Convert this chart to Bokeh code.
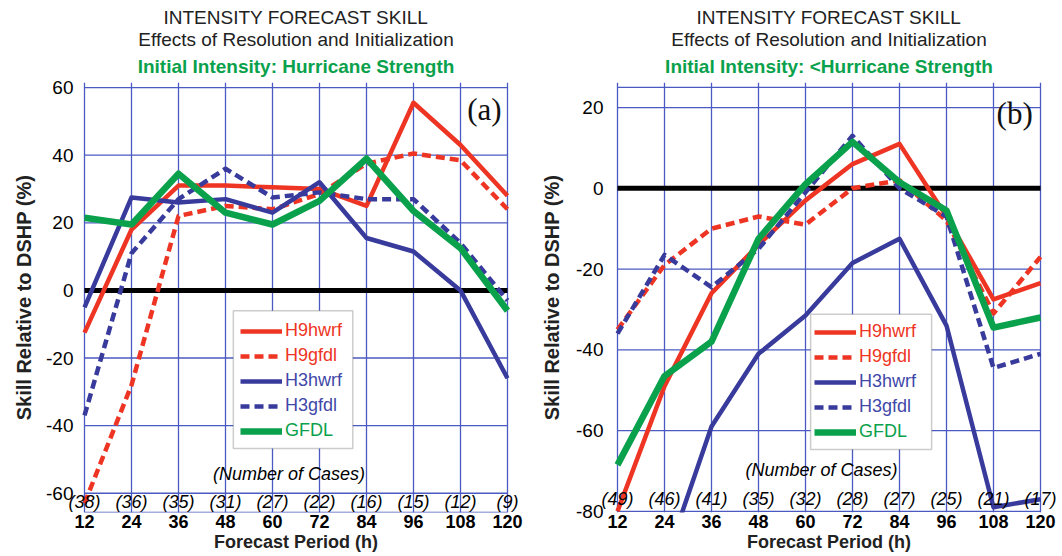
from bokeh.plotting import figure
from bokeh.models import (Range1d, FixedTicker, Label, Legend,
                          LegendItem, BoxAnnotation, Title, ColumnDataSource)
from bokeh.layouts import row
from bokeh.embed import file_html
from bokeh.resources import INLINE

nan = float("nan")

# ---------------- data ----------------
hours = [12, 24, 36, 48, 60, 72, 84, 96, 108, 120]

# Panel (a): initial intensity hurricane strength
a_H9hwrf = [-12.5, 18, 31, 31, 30.5, 30, 25, 55.5, 43, 28]
a_H9gfdl = [-63, -28, 22, 25, 24, 28.5, 37.5, 40.5, 38.5, 24]
a_H3hwrf = [-5, 27.5, 26, 27, 23, 32, 15.5, 11.5, 0, -26]
a_H3gfdl = [-37, 11, 27, 36, 27.5, 29, 27, 27, 14, -3]
a_GFDL = [21.5, 19.5, 34.5, 23, 19.5, 26.5, 39, 23.5, 12.5, -6]
a_cases = [38, 36, 35, 31, 27, 22, 16, 15, 12, 9]

# Panel (b): initial intensity < hurricane strength
b_H9hwrf = [-80, -49, -26, -14, -3, 6, 11, -7, -27.5, -23.5]
b_H9gfdl = [-35, -19, -10, -7, -9, 0, 2, -8, -31, -17]
b_H3hwrf = [nan, -93, -59, -41, -31.5, -18.5, -12.5, -34, -79, -77]
b_H3gfdl = [-36, -16.5, -24.5, -15, -1, 13, 0, -7, -44.5, -41]
b_GFDL = [-68.5, -46.5, -38, -12.5, 1, 11.5, 1.5, -5.5, -34.5, -32]
b_cases = [49, 46, 41, 35, 32, 28, 27, 25, 21, 17]

series_names = ["H9hwrf", "H9gfdl", "H3hwrf", "H3gfdl", "GFDL"]
a_yticks = [-60, -40, -20, 0, 20, 40, 60]
b_yticks = [-80, -60, -40, -20, 0, 20]

title1 = "INTENSITY FORECAST SKILL"
title2 = "Effects of Resolution and Initialization"
a_title3 = "Initial Intensity: Hurricane Strength"
b_title3 = "Initial Intensity: <Hurricane Strength"
xlabel = "Forecast Period (h)"
ylabel = "Skill Relative to DSHP (%)"

# ---------------- style ----------------
RED = "#ee3524"
BLUE = "#383b9c"
GREEN = "#0aa14c"
GRID = "#4a5ac2"
SANS = "Liberation Sans"
XPAD = 4.6  # hours of blank space on each side so edge texts are not clipped
styles = {
    "H9hwrf": dict(line_color=RED, line_width=4.5, line_dash="solid"),
    "H9gfdl": dict(line_color=RED, line_width=4.5, line_dash="9 5"),
    "H3hwrf": dict(line_color=BLUE, line_width=4.5, line_dash="solid"),
    "H3gfdl": dict(line_color=BLUE, line_width=4.5, line_dash="9 5"),
    "GFDL": dict(line_color=GREEN, line_width=6.5, line_dash="solid"),
}
text_colors = {"H9hwrf": RED, "H9gfdl": RED, "H3hwrf": "#3f48a8",
               "H3gfdl": "#3f48a8", "GFDL": GREEN}


def make_panel(width, left, right, frame_y, yrange, yticks, series, cases,
               case_y, noc_pos, tag, tag_pos, title3, legend_x, legend_y0,
               box, tick_standoff, label_standoff):
    p = figure(width=width, height=554,
               x_range=Range1d(hours[0] - XPAD, hours[-1] + XPAD),
               y_range=Range1d(*yrange),
               output_backend="svg", toolbar_location=None, title=None,
               min_border_left=left, min_border_right=right,
               min_border_top=82, min_border_bottom=40)
    p.background_fill_color = "white"
    p.border_fill_color = "white"
    p.outline_line_color = None

    p.xaxis.ticker = FixedTicker(ticks=hours)
    p.yaxis.ticker = FixedTicker(ticks=yticks)
    p.yaxis.major_label_overrides = {t: str(t) for t in yticks}
    p.xgrid.ticker = FixedTicker(ticks=hours)
    p.xgrid.grid_line_color = GRID
    p.xgrid.grid_line_width = 1.3
    p.ygrid.grid_line_color = None

    for ax in (p.xaxis, p.yaxis):
        ax.axis_line_color = None
        ax.major_tick_line_color = None
        ax.minor_tick_line_color = None
        ax.major_tick_out = 0
        ax.major_tick_in = 0
        ax.major_label_text_font = SANS
        ax.major_label_text_color = "black"
        ax.axis_label_text_font = SANS
        ax.axis_label_text_font_style = "bold"
        ax.axis_label_text_color = "#222222"

    p.xaxis.axis_label = xlabel
    p.xaxis.major_label_text_font_size = "18px"
    p.xaxis.major_label_text_font_style = "bold"
    p.xaxis.axis_label_text_font_size = "18px"
    p.xaxis.major_label_standoff = 2
    p.xaxis.axis_label_standoff = 1

    p.yaxis.axis_label = ylabel
    p.yaxis.major_label_text_font_size = "19px"
    p.yaxis.axis_label_text_font_size = "20px"
    p.yaxis.major_label_standoff = tick_standoff
    p.yaxis.axis_label_standoff = label_standoff

    # titles (added nearest to the frame first)
    p.add_layout(Title(text=title3, align="center", text_font=SANS,
                       text_font_size="19px", text_font_style="bold",
                       text_color=GREEN, standoff=11), "above")
    p.add_layout(Title(text=title2, align="center", text_font=SANS,
                       text_font_size="19px", text_font_style="normal",
                       text_color="#222222", standoff=-3), "above")
    p.add_layout(Title(text=title1, align="center", text_font=SANS,
                       text_font_size="19px", text_font_style="normal",
                       text_color="#222222", standoff=1), "above")

    # horizontal grid lines and frame edges, spanning 12..120 h only
    hlines = sorted(set(yticks + list(frame_y)))
    hsrc = ColumnDataSource(dict(y=hlines))
    p.segment(x0=hours[0], x1=hours[-1], y0="y", y1="y", source=hsrc,
              line_color=GRID, line_width=1.3)
    zsrc = ColumnDataSource(dict(y=[0]))
    p.segment(x0=hours[0], x1=hours[-1], y0="y", y1="y", source=zsrc,
              line_color="black", line_width=5)

    renderers = {}
    for name, vals in zip(series_names, series):
        src = ColumnDataSource(dict(x=hours, y=vals))
        renderers[name] = p.line("x", "y", source=src, line_join="round",
                                 **styles[name])

    # case counts
    for h, c in zip(hours, cases):
        p.add_layout(Label(x=h, y=case_y, text="(%d)" % c, text_font=SANS,
                           text_font_size="18px", text_font_style="italic",
                           text_align="center", text_baseline="middle",
                           text_color="black"))
    p.add_layout(Label(x=noc_pos[0], y=noc_pos[1], text="(Number of Cases)",
                       text_font=SANS, text_font_size="18px",
                       text_font_style="italic", text_align="center",
                       text_baseline="middle", text_color="black"))
    p.add_layout(Label(x=tag_pos[0], y=tag_pos[1], text=tag,
                       text_font="Liberation Serif", text_font_size="31px",
                       text_align="center", text_baseline="middle",
                       text_color="#111111"))

    # legend box
    p.add_layout(BoxAnnotation(left=box[0], right=box[1], bottom=box[2],
                               top=box[3], fill_color="white", fill_alpha=1,
                               line_color="#555555", line_width=1.5))
    for i, name in enumerate(series_names):
        lg = Legend(items=[LegendItem(label=name, renderers=[renderers[name]])],
                    location=(legend_x, legend_y0 - 25 * i),
                    background_fill_alpha=0, border_line_alpha=0,
                    padding=0, margin=0, glyph_width=42, glyph_height=20,
                    label_height=20, label_standoff=3,
                    label_text_font=SANS, label_text_font_size="18px",
                    label_text_color=text_colors[name])
        p.add_layout(lg)
    return p


pa = make_panel(531, 66, 6, (-65.7, 60), (-65.7, 61.5), a_yticks,
                [a_H9hwrf, a_H9gfdl, a_H3hwrf, a_H3gfdl, a_GFDL], a_cases,
                -62.7, (64.2, -54.4), "(a)", (114.1, 53.5), a_title3,
                174, 171, (50.0, 80.5, -46.8, -6.0), -7, 8)
pb = make_panel(529, 68, 2, (-80, 25), (-80.3, 26.2), b_yticks,
                [b_H9hwrf, b_H9gfdl, b_H3hwrf, b_H3gfdl, b_GFDL], b_cases,
                -76.9, (64.1, -69.8), "(b)", (113.4, 18.6), b_title3,
                215, 170, (61.3, 92.2, -64.7, -31.2), -4, 10)

layout = row(pa, pb)
open("out.html", "w").write(file_html(layout, INLINE))
